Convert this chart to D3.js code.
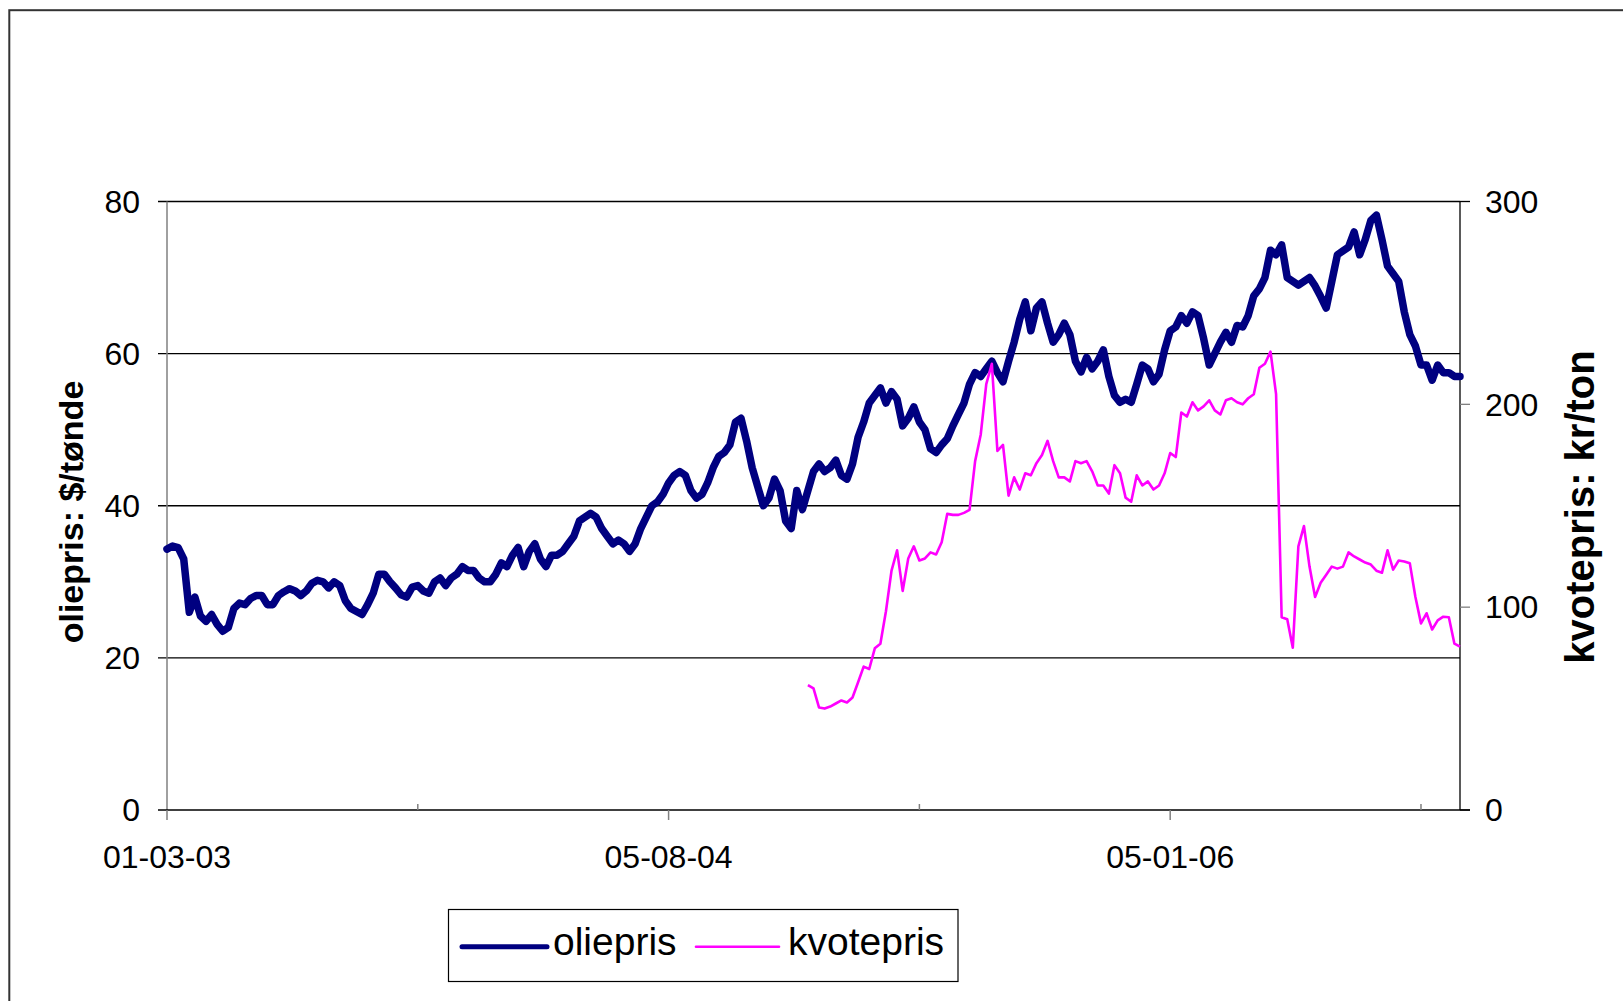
<!DOCTYPE html>
<html>
<head>
<meta charset="utf-8">
<script src="https://cdnjs.cloudflare.com/ajax/libs/d3/7.8.5/d3.min.js"></script>
<style>
  body { margin: 0; background: #fff; }
  svg text { font-family: "Liberation Sans", Arial, sans-serif; fill: #000; }
</style>
</head>
<body>
<div id="chart"></div>
<script>
// One sample = 4 trading days, x axis is a category axis (trading days / 4)
const tickIndex = [0, 45, 90, 135, 180, 225];
const tickLabels = ["01-03-03", "", "05-08-04", "", "05-01-06", ""];
const oilTicks = [0, 20, 40, 60, 80];
const quotaTicks = [0, 100, 200, 300];

// oliepris, $/tønde
const oilPrice = [
    34.3, 34.7, 34.5, 33, 26, 28, 25.5, 24.8, 25.7, 24.4,
    23.5, 24, 26.5, 27.2, 27, 27.8, 28.2, 28.2, 27, 27,
    28.2, 28.7, 29.1, 28.8, 28.2, 28.8, 29.8, 30.2, 30, 29.2,
    30, 29.5, 27.5, 26.5, 26.1, 25.7, 27, 28.5, 31, 31,
    30, 29.2, 28.3, 28, 29.3, 29.5, 28.8, 28.5, 30, 30.5,
    29.5, 30.5, 31, 32, 31.5, 31.5, 30.5, 30, 30, 31,
    32.5, 32, 33.5, 34.5, 32, 34, 35, 33, 32, 33.5,
    33.5, 34, 35, 36, 38, 38.5, 39, 38.5, 37, 36,
    35, 35.5, 35, 34, 35, 37, 38.5, 40, 40.5, 41.5,
    43, 44, 44.5, 44, 42, 41, 41.5, 43, 45, 46.5,
    47, 48, 51, 51.5, 48.5, 45, 42.5, 40, 41, 43.5,
    42, 38, 37, 42, 39.5, 42, 44.5, 45.5, 44.5, 45,
    46, 44, 43.5, 45.5, 49, 51, 53.5, 54.5, 55.5, 53.5,
    55, 54, 50.5, 51.5, 53, 51, 50, 47.5, 47, 48,
    48.8, 50.5, 52, 53.5, 56, 57.5, 57, 58, 59, 57.5,
    56.3, 59, 61.5, 64.5, 66.8, 63, 66, 66.8, 64, 61.5,
    62.5, 64, 62.5, 59, 57.6, 59.5, 58, 59, 60.5, 57,
    54.5, 53.6, 54, 53.6, 56, 58.5, 58, 56.3, 57.3, 60.5,
    63, 63.5, 65, 64, 65.5, 65, 62, 58.5, 60, 61.5,
    62.8, 61.5, 63.7, 63.5, 65, 67.6, 68.5, 70, 73.6, 73,
    74.3, 70, 69.5, 69, 69.5, 70, 68.9, 67.5, 66, 69.5,
    73, 73.5, 74, 76, 73, 75, 77.5, 78.2, 75, 71.5,
    70.5, 69.5, 65.5, 62.5, 61, 58.5, 58.5, 56.5, 58.5, 57.5,
    57.5, 57, 57
];

// kvotepris, kr/ton (starts at sample 115)
const quotaStart = 115;
const quotaPrice = [
    61.6, 60, 50.5, 50, 51, 52.5, 54, 53, 55.5, 63,
    70.7, 69.5, 79.7, 82, 98, 118, 128, 108, 124, 130,
    123, 124, 127, 126, 132, 146, 145.5, 145.5, 146.5, 148,
    172, 185, 210, 220, 177, 180, 155, 164, 158, 166,
    165, 171, 175, 182, 172, 164, 164, 162, 172, 171,
    172, 167, 160, 160, 156, 170, 166, 154, 152, 165,
    160, 162, 158, 160, 166, 176, 174, 196, 194, 201,
    197, 199, 202, 197, 195, 202, 203, 201, 200, 203,
    205, 218, 220, 226, 205, 95, 94, 80, 130, 140,
    120, 105, 112, 116, 120, 119, 120, 127, 125, 123.5,
    122, 121, 118, 117, 128, 118.5, 123, 122.5, 121.6, 105,
    92, 97, 89, 93.5, 95.3, 95, 82, 80.5
];

const W = 1623, H = 1001;
const plot = { left: 167, right: 1460, top: 201.5, bottom: 810 };

const svg = d3.select("#chart").append("svg")
    .attr("width", W)
    .attr("height", H);

const x = d3.scaleLinear().domain([0, 232]).range([plot.left, plot.right]);
const yOil = d3.scaleLinear().domain([0, 80]).range([plot.bottom, plot.top]);
const yQuota = d3.scaleLinear().domain([0, 300]).range([plot.bottom, plot.top]);

// Outer chart frame (runs off the right and bottom edge)
svg.append("rect")
    .attr("x", 9.3).attr("y", 10.2)
    .attr("width", 2000).attr("height", 2000)
    .attr("fill", "none")
    .attr("stroke", "#333")
    .attr("stroke-width", 2);

drawGrid();
drawAxes();
drawLines();
drawTitles();
drawLegend();

// Horizontal gridlines with left tick marks
function drawGrid() {
    svg.selectAll(".grid")
        .data(oilTicks.filter(d => d > 0))
        .enter().append("line")
        .attr("class", "grid")
        .attr("x1", plot.left - 9)
        .attr("x2", plot.right)
        .attr("y1", d => yOil(d))
        .attr("y2", d => yOil(d))
        .attr("stroke", "#000")
        .attr("stroke-width", 1.3);
}

function drawAxes() {
    // left axis line
    svg.append("line")
        .attr("x1", plot.left).attr("x2", plot.left)
        .attr("y1", plot.top).attr("y2", plot.bottom)
        .attr("stroke", "#808080").attr("stroke-width", 1.5);

    // right axis line
    svg.append("line")
        .attr("x1", plot.right).attr("x2", plot.right)
        .attr("y1", plot.top).attr("y2", plot.bottom)
        .attr("stroke", "#000").attr("stroke-width", 1.3);

    // right axis ticks
    svg.selectAll(".rtick")
        .data(quotaTicks)
        .enter().append("line")
        .attr("class", "rtick")
        .attr("x1", plot.right).attr("x2", plot.right + 10)
        .attr("y1", d => yQuota(d)).attr("y2", d => yQuota(d))
        .attr("stroke", d => (d === 0 || d === 300) ? "#000" : "#808080")
        .attr("stroke-width", 1.3);

    // bottom axis line
    svg.append("line")
        .attr("x1", plot.left - 9).attr("x2", plot.right + 10)
        .attr("y1", plot.bottom).attr("y2", plot.bottom)
        .attr("stroke", "#000").attr("stroke-width", 1.3);

    // x ticks: labelled ones outside, the others inside
    svg.selectAll(".xtick")
        .data(tickIndex)
        .enter().append("line")
        .attr("class", "xtick")
        .attr("x1", d => x(d)).attr("x2", d => x(d))
        .attr("y1", plot.bottom)
        .attr("y2", (d, i) => tickLabels[i] ? plot.bottom + 10 : plot.bottom - 6)
        .attr("stroke", "#808080")
        .attr("stroke-width", 1.5);

    svg.selectAll(".xlabel")
        .data(tickIndex)
        .enter().append("text")
        .attr("class", "xlabel")
        .attr("x", d => x(d))
        .attr("y", plot.bottom + 47)
        .attr("dy", "0.35em")
        .attr("text-anchor", "middle")
        .attr("font-size", "32px")
        .text((d, i) => tickLabels[i]);

    svg.selectAll(".ylabel")
        .data(oilTicks)
        .enter().append("text")
        .attr("class", "ylabel")
        .attr("x", 140)
        .attr("y", d => yOil(d))
        .attr("dy", "0.35em")
        .attr("text-anchor", "end")
        .attr("font-size", "32px")
        .text(d => d);

    svg.selectAll(".y2label")
        .data(quotaTicks)
        .enter().append("text")
        .attr("class", "y2label")
        .attr("x", 1485)
        .attr("y", d => yQuota(d))
        .attr("dy", "0.35em")
        .attr("text-anchor", "start")
        .attr("font-size", "32px")
        .text(d => d);
}

function drawLines() {
    const oilLine = d3.line()
        .x((d, i) => x(i))
        .y(d => yOil(d));

    const quotaLine = d3.line()
        .x((d, i) => x(quotaStart + i))
        .y(d => yQuota(d));

    svg.append("path")
        .datum(oilPrice)
        .attr("d", oilLine)
        .attr("fill", "none")
        .attr("stroke", "#000080")
        .attr("stroke-width", 7.5)
        .attr("stroke-linejoin", "round")
        .attr("stroke-linecap", "round");

    svg.append("path")
        .datum(quotaPrice)
        .attr("d", quotaLine)
        .attr("fill", "none")
        .attr("stroke", "#FF00FF")
        .attr("stroke-width", 2.6)
        .attr("stroke-linejoin", "round");
}

function drawTitles() {
    svg.append("text")
        .attr("transform", "translate(71,512) rotate(-90)")
        .attr("dy", "0.35em")
        .attr("text-anchor", "middle")
        .attr("font-size", "34px")
        .attr("font-weight", "bold")
        .text("oliepris:  $/tønde");

    svg.append("text")
        .attr("transform", "translate(1580,507) rotate(-90)")
        .attr("dy", "0.35em")
        .attr("text-anchor", "middle")
        .attr("font-size", "40px")
        .attr("font-weight", "bold")
        .text("kvotepris: kr/ton");
}

function drawLegend() {
    const g = svg.append("g");

    g.append("rect")
        .attr("x", 448.5).attr("y", 909.5)
        .attr("width", 509.5).attr("height", 72)
        .attr("fill", "#fff")
        .attr("stroke", "#000")
        .attr("stroke-width", 1.2);

    const items = [
        { name: "oliepris", color: "#000080", width: 5, x1: 462, x2: 547, tx: 553 },
        { name: "kvotepris", color: "#FF00FF", width: 2.6, x1: 696, x2: 779, tx: 788 }
    ];

    items.forEach(d => {
        g.append("line")
            .attr("x1", d.x1).attr("x2", d.x2)
            .attr("y1", 946.7).attr("y2", 946.7)
            .attr("stroke", d.color)
            .attr("stroke-width", d.width)
            .attr("stroke-linecap", "round");
        g.append("text")
            .attr("x", d.tx)
            .attr("y", 955)
            .attr("font-size", "39px")
            .text(d.name);
    });
}
</script>
</body>
</html>
